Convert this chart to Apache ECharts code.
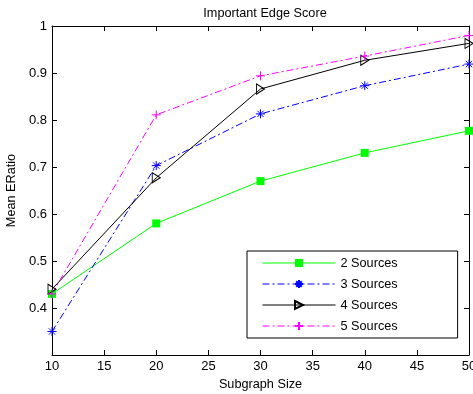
<!DOCTYPE html>
<html>
<head>
<meta charset="utf-8">
<script src="https://cdn.jsdelivr.net/npm/echarts@6/dist/echarts.min.js"></script>
<style>
html, body { margin: 0; padding: 0; background: #fff; }
#main { width: 473px; height: 394px; }
</style>
</head>
<body>
<div id="main"></div>
<script>
var sizes = [10, 20, 30, 40, 50];
var names = ['2 Sources', '3 Sources', '4 Sources', '5 Sources'];
var src2 = [0.43, 0.58, 0.67, 0.73, 0.777];
var src3 = [0.35, 0.703, 0.813, 0.873, 0.919];
var src4 = [0.44, 0.677, 0.866, 0.927, 0.963];
var src5 = [0.43, 0.811, 0.894, 0.936, 0.98];

var font = 'Liberation Sans, Arial, sans-serif';
var dashDot = [7, 3, 2, 3];

function pairs(vals) {
    return sizes.map(function (x, i) { return [x, vals[i]]; });
}

var myChart = echarts.init(document.getElementById('main'));

var axisCommon = {
    axisLine: { show: true, lineStyle: { color: '#000', width: 1 } },
    axisTick: { show: true, inside: true, length: 5, lineStyle: { color: '#000' } },
    splitLine: { show: false }
};

option = {
    animation: false,
    backgroundColor: '#fff',
    textStyle: { fontFamily: font },
    title: {
        text: 'Important Edge Score',
        left: 260, top: 2, textAlign: 'center',
        textStyle: { fontSize: 12.7, fontWeight: 'normal', color: '#000', fontFamily: font }
    },
    grid: { left: 52, right: 4, top: 26, bottom: 39, outerBoundsMode: 'none', containLabel: false },
    legend: {
        data: names,
        orient: 'vertical',
        left: 247, top: 251,
        padding: [5, 60, 5, 15],
        itemWidth: 73, itemHeight: 10, itemGap: 7,
        borderColor: '#000', borderWidth: 1, borderRadius: 0,
        backgroundColor: '#fff',
        lineStyle: { width: 1 },
        textStyle: { fontSize: 12.7, color: '#000', fontFamily: font, lineHeight: 14 }
    },
    xAxis: [
        Object.assign({
            type: 'value', position: 'bottom', min: 10, max: 50, interval: 5,
            name: 'Subgraph Size', nameLocation: 'middle', nameGap: 20,
            nameTextStyle: { fontSize: 12.7, color: '#000', fontFamily: font },
            axisLabel: { fontSize: 13, color: '#000', margin: 5, fontFamily: font }
        }, axisCommon),
        Object.assign({
            type: 'value', position: 'top', min: 10, max: 50, interval: 5,
            axisLabel: { show: false }
        }, axisCommon)
    ],
    yAxis: [
        Object.assign({
            type: 'value', position: 'left', min: 0.3, max: 1, interval: 0.1,
            name: 'Mean ERatio', nameLocation: 'middle', nameGap: 24,
            nameTextStyle: { fontSize: 12.7, color: '#000', fontFamily: font },
            axisLabel: {
                fontSize: 13, color: '#000', margin: 5, fontFamily: font, showMinLabel: false,
                formatter: function (v) { return Math.abs(v - 1) < 1e-9 ? '1' : v.toFixed(1); }
            }
        }, axisCommon),
        Object.assign({
            type: 'value', position: 'right', min: 0.3, max: 1, interval: 0.1,
            axisLabel: { show: false }
        }, axisCommon)
    ],
    series: [
        {
            name: names[0], type: 'line', data: pairs(src2),
            symbol: 'rect', symbolSize: 8,
            lineStyle: { color: '#00ff00', width: 1 },
            itemStyle: { color: '#00ff00' }
        },
        {
            name: names[1], type: 'line', data: pairs(src3),
            symbol: 'path://M5,0L5,10M0,5L10,5M1.5,1.5L8.5,8.5M1.5,8.5L8.5,1.5', symbolSize: 9,
            lineStyle: { color: '#0000ff', width: 1, type: dashDot },
            itemStyle: { color: '#0000ff', borderColor: '#0000ff', borderWidth: 1 }
        },
        {
            name: names[2], type: 'line', data: pairs(src4),
            symbol: 'path://M0,0L8,5L0,10Z', symbolSize: [8, 10],
            lineStyle: { color: '#000', width: 1 },
            itemStyle: { color: 'rgba(0,0,0,0)', borderColor: '#000', borderWidth: 1 }
        },
        {
            name: names[3], type: 'line', data: pairs(src5),
            symbol: 'path://M5,0L5,10M0,5L10,5', symbolSize: 9,
            lineStyle: { color: '#ff00ff', width: 1, type: dashDot },
            itemStyle: { color: '#ff00ff', borderColor: '#ff00ff', borderWidth: 1 }
        }
    ]
};
myChart.setOption(option, true);

window.onresize = function () {
    myChart.resize();
};
</script>
</body>
</html>
